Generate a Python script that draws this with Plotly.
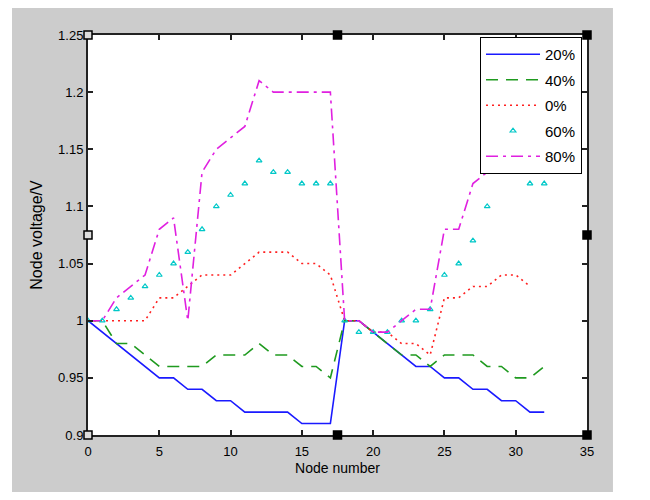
import plotly.graph_objects as go

# ---------------- data ----------------
nodes = list(range(33))

v20 = [1.00, 0.99, 0.98, 0.97, 0.96, 0.95, 0.95, 0.94, 0.94, 0.93, 0.93, 0.92, 0.92, 0.92, 0.92, 0.91, 0.91, 0.91,
       1.00, 1.00, 0.99, 0.98, 0.97, 0.96, 0.96, 0.95, 0.95, 0.94, 0.94, 0.93, 0.93, 0.92, 0.92]
v40 = [1.00, 1.00, 0.98, 0.98, 0.97, 0.96, 0.96, 0.96, 0.96, 0.97, 0.97, 0.97, 0.98, 0.97, 0.97, 0.96, 0.96, 0.95,
       1.00, 1.00, 0.99, 0.98, 0.97, 0.97, 0.96, 0.97, 0.97, 0.97, 0.96, 0.96, 0.95, 0.95, 0.96]
v0 = [1.00, 1.00, 1.00, 1.00, 1.00, 1.02, 1.02, 1.03, 1.04, 1.04, 1.04, 1.05, 1.06, 1.06, 1.06, 1.05, 1.05, 1.04,
      1.00, 1.00, 0.99, 0.99, 0.98, 0.98, 0.97, 1.02, 1.02, 1.03, 1.03, 1.04, 1.04, 1.03, None]
v60 = [1.00, 1.00, 1.01, 1.02, 1.03, 1.04, 1.05, 1.06, 1.08, 1.10, 1.11, 1.12, 1.14, 1.13, 1.13, 1.12, 1.12, 1.12,
       1.00, 0.99, 0.99, 0.99, 1.00, 1.00, 1.01, 1.04, 1.05, 1.07, 1.10, 1.13, 1.13, 1.12, 1.12]
v80 = [1.00, 1.00, 1.02, 1.03, 1.04, 1.08, 1.09, 1.00, 1.13, 1.15, 1.16, 1.17, 1.21, 1.20, 1.20, 1.20, 1.20, 1.20,
       1.00, 1.00, 0.99, 0.99, 1.00, 1.01, 1.01, 1.08, 1.08, 1.12, 1.13, 1.13, 1.13, 1.13, 1.13]

series_names = ["20%", "40%", "0%", "60%", "80%"]
x_ticks = [0, 5, 10, 15, 20, 25, 30, 35]
y_ticks = [0.9, 0.95, 1.0, 1.05, 1.1, 1.15, 1.2, 1.25]
y_ticktext = ["0.9", "0.95", "1", "1.05", "1.1", "1.15", "1.2", "1.25"]

FONT = "Liberation Sans, Arial, sans-serif"

fig = go.Figure()
fig.add_trace(go.Scatter(x=nodes, y=v20, name=series_names[0], mode="lines", legendgroup="a",
                         line=dict(color="#1a1aff", width=1.6)))
fig.add_trace(go.Scatter(x=nodes, y=v40, name=series_names[1], mode="lines", legendgroup="b",
                         line=dict(color="#1f9a1f", width=1.6, dash="12px,8px")))
fig.add_trace(go.Scatter(x=nodes, y=v0, name=series_names[2], mode="lines", legendgroup="c",
                         line=dict(color="#ff2020", width=1.6, dash="2px,4px")))
fig.add_trace(go.Scatter(x=nodes, y=v60, name=series_names[3], mode="markers", legendgroup="d",
                         marker=dict(symbol="triangle-up-open", size=5, color="#00c8c8",
                                     line=dict(width=1.2, color="#00c8c8"))))
fig.add_trace(go.Scatter(x=nodes, y=v80, name=series_names[4], mode="lines", legendgroup="e",
                         line=dict(color="#e020e0", width=1.6, dash="12px,5px,3px,5px")))

# background: grey figure area inside white border, white axes area
shapes = [
    dict(type="rect", xref="paper", yref="paper", x0=-0.1523, x1=1.052, y0=-0.1425, y1=1.07,
         fillcolor="#cccccc", line=dict(width=0), layer="below"),
    dict(type="rect", xref="paper", yref="paper", x0=0, x1=1, y0=0, y1=1,
         fillcolor="white", line=dict(width=0), layer="below"),
]
# selection handles on the axes box
handles = [(0, 1, "#dddddd"), (0.5, 1, "black"), (1, 1, "black"),
           (0, 0.5, "#dddddd"), (1, 0.5, "black"),
           (0, 0, "#dddddd"), (0.5, 0, "black"), (1, 0, "black")]
for hx, hy, fc in handles:
    shapes.append(dict(type="rect", xref="paper", yref="paper", xsizemode="pixel", ysizemode="pixel",
                       xanchor=hx, yanchor=hy, x0=-4, x1=4, y0=-4, y1=4,
                       fillcolor=fc, line=dict(color="black", width=1.5), layer="above"))

axis_common = dict(showline=True, linecolor="#222222", linewidth=2, mirror="ticks",
                   ticks="inside", ticklen=5, tickwidth=1.5, tickcolor="#222222",
                   showgrid=False, zeroline=False,
                   tickfont=dict(family=FONT, size=13, color="black"))

fig.update_xaxes(range=[0, 35], tickvals=x_ticks, ticklabelstandoff=3,
                 title=dict(text="Node number", font=dict(family=FONT, size=14, color="black"), standoff=6),
                 **axis_common)
fig.update_yaxes(range=[0.9, 1.25], tickvals=y_ticks, ticktext=y_ticktext,
                 title=dict(text="Node voltage/V", font=dict(family=FONT, size=16, color="black"), standoff=11),
                 **axis_common)

fig.update_layout(
    width=642, height=492,
    margin=dict(l=80, r=63, t=27, b=65),
    paper_bgcolor="white", plot_bgcolor="white",
    shapes=shapes,
    showlegend=True,
    legend=dict(x=0.99, y=0.995, xanchor="right", yanchor="top",
                bgcolor="white", bordercolor="black", borderwidth=1,
                font=dict(family=FONT, size=15, color="black"),
                tracegroupgap=3, itemwidth=54),
)

fig.write_html("out.html")
